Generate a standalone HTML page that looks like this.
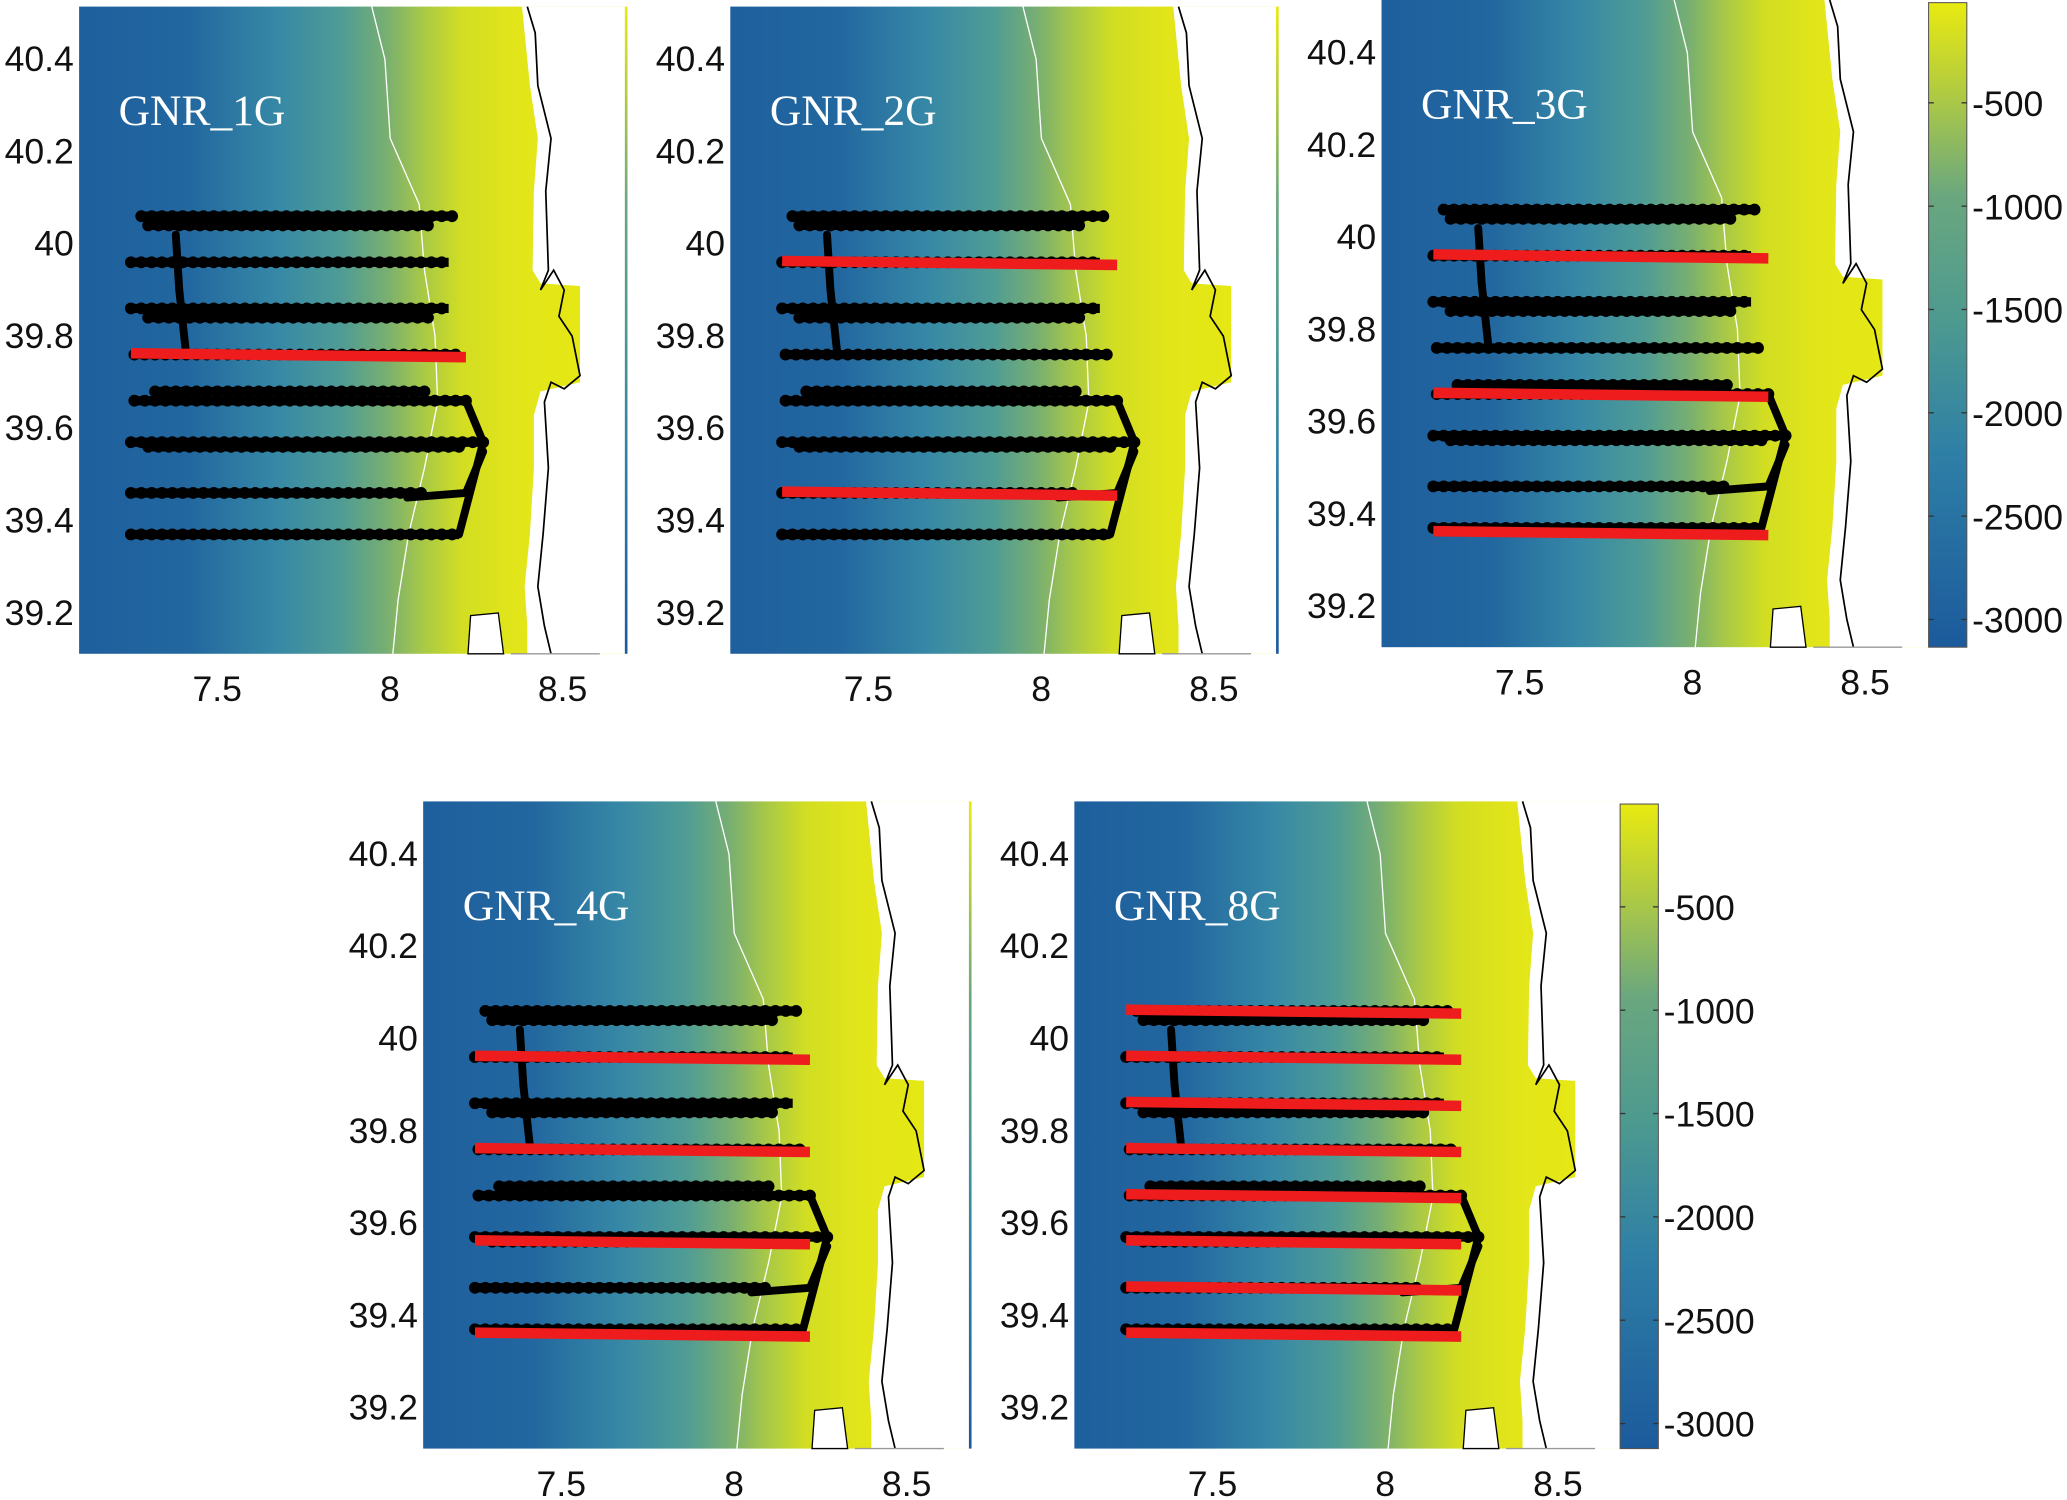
<!DOCTYPE html>
<html><head><meta charset="utf-8"><title>GNR glider tracks</title>
<style>html,body{margin:0;padding:0;background:#fff;}svg{display:block;}</style></head>
<body>
<svg id="fig" xmlns="http://www.w3.org/2000/svg" width="2067" height="1500" viewBox="0 0 1568 1138" preserveAspectRatio="none">
<defs>
<linearGradient id="sea" x1="0" y1="0" x2="1" y2="0">
<stop offset="0" stop-color="#1e5f9e"/>
<stop offset="0.2" stop-color="#22679f"/>
<stop offset="0.36" stop-color="#3688a6"/>
<stop offset="0.48" stop-color="#4f9c95"/>
<stop offset="0.56" stop-color="#77ae72"/>
<stop offset="0.63" stop-color="#a9c946"/>
<stop offset="0.7" stop-color="#d2de22"/>
<stop offset="0.8" stop-color="#e2e519"/>
<stop offset="1" stop-color="#e8ea10"/>
</linearGradient>
<linearGradient id="cb" x1="0" y1="0" x2="0" y2="1">
<stop offset="0" stop-color="#e8ea10"/>
<stop offset="0.12" stop-color="#b9cf3a"/>
<stop offset="0.3" stop-color="#6aa77f"/>
<stop offset="0.5" stop-color="#4c9990"/>
<stop offset="0.7" stop-color="#2e7fa6"/>
<stop offset="1" stop-color="#1c5a9c"/>
</linearGradient>
</defs>
</svg>
<script>
const latTicks = [40.4, 40.2, 40, 39.8, 39.6, 39.4, 39.2];
const latLabels = ["40.4", "40.2", "40", "39.8", "39.6", "39.4", "39.2"];
const lonTicks = [7.5, 8, 8.5];
const lonLabels = ["7.5", "8", "8.5"];
const trackLats = [40.06, 40.04, 39.96, 39.86, 39.84, 39.76, 39.68, 39.66, 39.57, 39.56, 39.46, 39.37];
const trackLonStarts = [7.28, 7.3, 7.25, 7.25, 7.3, 7.26, 7.32, 7.26, 7.25, 7.3, 7.25, 7.25];
const trackLonEnds = [8.18, 8.12, 8.17, 8.17, 8.12, 8.2, 8.1, 8.22, 8.28, 8.2, 8.1, 8.2];
const connLon1 = [7.38, 7.39, 8.22, 8.27, 8.27, 8.22];
const connLat1 = [40.02, 39.9, 39.66, 39.57, 39.55, 39.46];
const connLon2 = [7.39, 7.41, 8.27, 8.2, 8.22, 8.05];
const connLat2 = [39.9, 39.76, 39.57, 39.37, 39.46, 39.45];
const panelNames = ["GNR_1G", "GNR_2G", "GNR_3G", "GNR_4G", "GNR_8G"];
const transects1G = [39.76];
const transects2G = [39.96, 39.46];
const transects3G = [39.96, 39.66, 39.36];
const transects4G = [39.96, 39.76, 39.56, 39.36];
const transects8G = [40.06, 39.96, 39.86, 39.76, 39.66, 39.56, 39.46, 39.36];
const transects = [transects1G, transects2G, transects3G, transects4G, transects8G];
const transectLonStart = 7.25;
const transectLonEnd = 8.22;
const cbTicks = [-500, -1000, -1500, -2000, -2500, -3000];
const cbLabels = ["-500", "-1000", "-1500", "-2000", "-2500", "-3000"];

const NS = "http://www.w3.org/2000/svg";
const svg = document.getElementById('fig');
function mk(tag, attrs, parent) {
  const e = document.createElementNS(NS, tag);
  for (const k in attrs) e.setAttribute(k, attrs[k]);
  (parent || svg).appendChild(e);
  return e;
}
const layout = [
  {left: 60, top: 5, edge: true},
  {left: 554, top: 5, edge: true},
  {left: 1048, top: 0, edge: false},
  {left: 321, top: 608, edge: true},
  {left: 815, top: 608, edge: false}
];
const W = 415, H = 491;
const seaEdge = [[336,0],[338,20],[342,60],[348,100],[345,140],[344,200],[350,210],[380,212],[380,285],[350,292],[345,310],[345,350],[342,400],[338,440],[340,470],[340,491]];
const coastPts = [[332,0],[338,20],[340,60],[350,100],[346,140],[348,200],[342,215],[352,200],[360,215],[356,235],[366,250],[372,280],[360,290],[350,285],[345,300],[348,350],[344,400],[340,440],[345,470],[350,491]];
const isobath = [[222,0],[232,40],[236,100],[258,150],[262,200],[270,250],[272,300],[262,350],[250,400],[242,450],[238,491]];

layout.forEach((p, i) => {
  const g = mk('g', {});
  
  
  const xOf = lon => p.left + (lon - 7.1) * 262;
  const yOf = lat => p.top + 40 + (40.4 - lat) * 350;
  const bg = mk('rect', {x: p.left, y: p.top, width: W, height: H, fill: 'url(#sea)'}, g);
  
  
  let d = 'M' + (p.left + W) + ',' + p.top;
  seaEdge.forEach(q => { d += ' L' + (p.left + q[0]) + ',' + (p.top + q[1]); });
  d += ' L' + (p.left + W) + ',' + (p.top + H) + ' Z';
  const land = mk('path', {d: d, fill: '#fff'}, g);
  
  
  let c = '';
  coastPts.forEach((q, k) => { c += (k ? ' L' : 'M') + (p.left + q[0] + 8) + ',' + (p.top + q[1]); });
  const coast = mk('path', {d: c, fill: 'none', stroke: '#000', 'stroke-width': 1.3}, g);
  
  
  const isl = mk('path', {d: `M${p.left+295},${p.top+491} L${p.left+297},${p.top+462} L${p.left+318},${p.top+460} L${p.left+322},${p.top+491} Z`, fill: '#fff', stroke: '#000', 'stroke-width': 1}, g);
  
  
  let b = '';
  isobath.forEach((q, k) => { b += (k ? ' L' : 'M') + (p.left + q[0]) + ',' + (p.top + q[1]); });
  const iso = mk('path', {d: b, fill: 'none', stroke: '#fff', 'stroke-width': 1}, g);
  
  
  if (p.edge) {
    const el = mk('rect', {x: p.left + W - 1, y: p.top, width: 2, height: H, fill: 'url(#cb)'}, g);
    
    
  }
  const ax = mk('line', {x1: xOf(8.35), x2: p.left + W - 20, y1: p.top + H, y2: p.top + H, stroke: '#999', 'stroke-width': 1}, g);
  
  
  trackLats.forEach((lat, k) => {
    const y = yOf(lat);
    const ln = mk('line', {x1: xOf(trackLonStarts[k]), x2: xOf(trackLonEnds[k]), y1: y, y2: y, stroke: '#000', 'stroke-width': 7}, g);
    
    
    for (let lon = trackLonStarts[k]; lon <= trackLonEnds[k] + 1e-6; lon += 0.03) {
      const dot = mk('circle', {cx: xOf(lon), cy: y, r: 4.5, fill: '#000'}, g);
      
      
    }
  });
  connLon1.forEach((lon, k) => {
    const cl = mk('line', {x1: xOf(lon), y1: yOf(connLat1[k]), x2: xOf(connLon2[k]), y2: yOf(connLat2[k]), stroke: '#000', 'stroke-width': 6, 'stroke-linecap': 'round'}, g);
    
    
  });
  transects[i].forEach(lat => {
    const t = mk('line', {x1: xOf(transectLonStart), y1: yOf(lat) - 1, x2: xOf(transectLonEnd), y2: yOf(lat) + 2, stroke: '#ee1c1c', 'stroke-width': 8}, g);
    
    
  });
  const lab = mk('text', {x: p.left + 30, y: p.top + 90, fill: '#fff', 'font-family': '"Liberation Serif", serif', 'font-size': 33}, g);
  lab.textContent = panelNames[i];
  
  
  latTicks.forEach((lat, k) => {
    const t = mk('text', {x: p.left - 4, y: yOf(lat) + 9, 'text-anchor': 'end', 'font-family': '"Liberation Sans", sans-serif', 'font-size': 27, fill: '#111'}, g);
    t.textContent = latLabels[k];
    
    
  });
  lonTicks.forEach((lon, k) => {
    const t = mk('text', {x: xOf(lon), y: p.top + H + 36, 'text-anchor': 'middle', 'font-family': '"Liberation Sans", sans-serif', 'font-size': 27, fill: '#111'}, g);
    t.textContent = lonLabels[k];
    
    
  });
});

[{x: 1463, top: 2, ref: 78}, {x: 1229, top: 610, ref: 688}].forEach(cbp => {
  const g = mk('g', {});
  
  
  const yV = v => cbp.ref + (-500 - v) / 500 * 78.4;
  const r = mk('rect', {x: cbp.x, y: cbp.top, width: 29, height: 489, fill: 'url(#cb)', stroke: '#555', 'stroke-width': 0.8}, g);
  
  
  cbTicks.forEach((v, k) => {
    const y = yV(v);
    mk('line', {x1: cbp.x, x2: cbp.x + 4, y1: y, y2: y, stroke: '#333', 'stroke-width': 1}, g);
    mk('line', {x1: cbp.x + 25, x2: cbp.x + 29, y1: y, y2: y, stroke: '#333', 'stroke-width': 1}, g);
    const t = mk('text', {x: cbp.x + 33, y: y + 10, 'font-family': '"Liberation Sans", sans-serif', 'font-size': 27, fill: '#111'}, g);
    t.textContent = cbLabels[k];
    
    
  });
});
</script>
</body></html>
